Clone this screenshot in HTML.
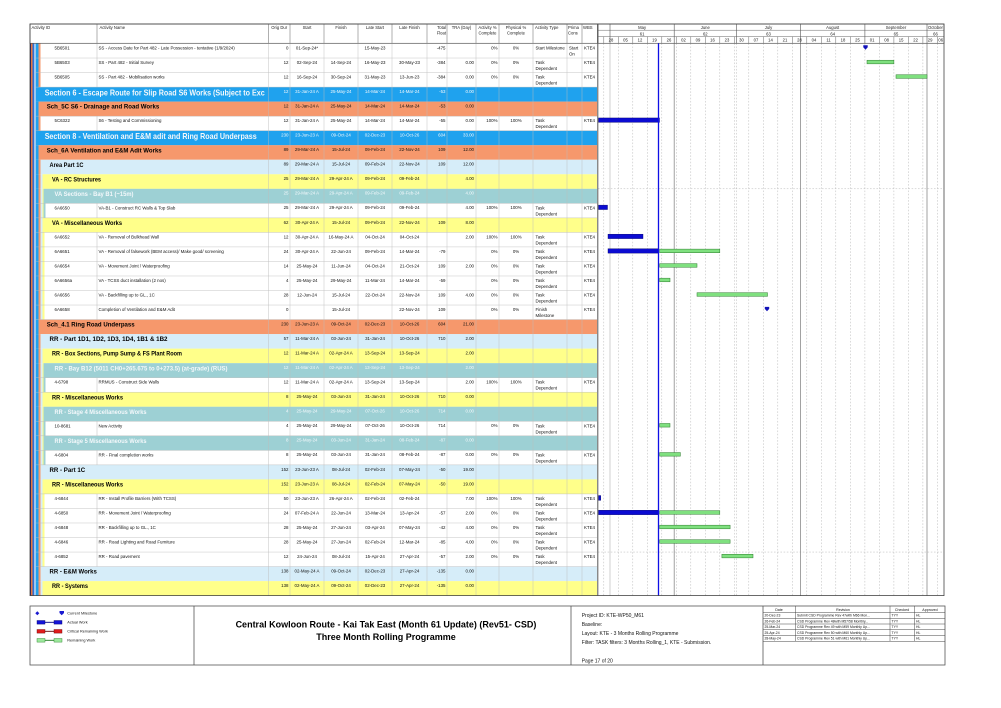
<!DOCTYPE html>
<html><head><meta charset="utf-8"><style>
html,body{margin:0;padding:0;background:#fff;}
svg{display:block;}
svg text{font-family:"Liberation Sans",sans-serif;font-size:4.4px;fill:#111;}
.r{text-anchor:end}.c{text-anchor:middle}
.bw{font-weight:bold;font-size:8.2px;fill:#fff}
.bb{font-weight:bold;font-size:6.6px;fill:#000}
.bt{font-weight:bold;font-size:6.6px;fill:#fff}
.w text{fill:#f4f8fb}
.h{font-size:4.2px;fill:#222}
.gl{stroke:#b4b4b4;stroke-width:0.5;stroke-dasharray:1.6,1.6}
.gs{stroke:#8a8a8a;stroke-width:0.8}
.gb{fill:#7fe07f;stroke:#2f7d2f;stroke-width:0.5}
.bl{fill:#0b0bd2;stroke:#00006a;stroke-width:0.4}
.ms{fill:#1212b8}
.cl{stroke:#c6c6c6;stroke-width:0.6}
</style></head><body>
<svg width="1001" height="708" viewBox="0 0 1001 708" xmlns="http://www.w3.org/2000/svg">
<defs>
<g id="sSch"><rect x="36" y="0" width="2.5" height="14.6" fill="#1fa2ee"/></g>
<g id="sArea"><use href="#sSch"/><rect x="38.5" y="0" width="2" height="14.6" fill="#f6986c"/></g>
<g id="sYel"><use href="#sArea"/><rect x="40.5" y="0" width="2" height="14.6" fill="#d6edf9"/></g>
<g id="sTeal"><use href="#sYel"/><rect x="42.5" y="0" width="1" height="14.6" fill="#ffff8a"/></g>
<g id="sActYel"><use href="#sYel"/><rect x="42.5" y="0" width="2" height="14.6" fill="#ffff8a"/></g>
<g id="sActTeal"><use href="#sTeal"/><rect x="43.5" y="0" width="2" height="14.6" fill="#9dd0d4"/></g>
</defs>
<rect width="1001" height="708" fill="#fff"/>

<!-- GANTT grid (drawn first, under bars) -->
<g class="gl">
<line x1="603.8" y1="43.3" x2="603.8" y2="595.6"/><line x1="618.3" y1="43.3" x2="618.3" y2="595.6"/><line x1="632.8" y1="43.3" x2="632.8" y2="595.6"/><line x1="647.3" y1="43.3" x2="647.3" y2="595.6"/><line x1="661.8" y1="43.3" x2="661.8" y2="595.6"/><line x1="676.3" y1="43.3" x2="676.3" y2="595.6"/><line x1="690.8" y1="43.3" x2="690.8" y2="595.6"/><line x1="705.3" y1="43.3" x2="705.3" y2="595.6"/><line x1="719.8" y1="43.3" x2="719.8" y2="595.6"/><line x1="734.3" y1="43.3" x2="734.3" y2="595.6"/><line x1="748.8" y1="43.3" x2="748.8" y2="595.6"/><line x1="763.3" y1="43.3" x2="763.3" y2="595.6"/><line x1="777.8" y1="43.3" x2="777.8" y2="595.6"/><line x1="792.3" y1="43.3" x2="792.3" y2="595.6"/><line x1="806.8" y1="43.3" x2="806.8" y2="595.6"/><line x1="821.3" y1="43.3" x2="821.3" y2="595.6"/><line x1="835.8" y1="43.3" x2="835.8" y2="595.6"/><line x1="850.3" y1="43.3" x2="850.3" y2="595.6"/><line x1="864.9" y1="43.3" x2="864.9" y2="595.6"/><line x1="879.4" y1="43.3" x2="879.4" y2="595.6"/><line x1="893.9" y1="43.3" x2="893.9" y2="595.6"/><line x1="908.4" y1="43.3" x2="908.4" y2="595.6"/><line x1="922.9" y1="43.3" x2="922.9" y2="595.6"/><line x1="937.4" y1="43.3" x2="937.4" y2="595.6"/><line x1="736.4" y1="43.3" x2="736.4" y2="595.6"/>
<line x1="598" y1="188.8" x2="944" y2="188.8"/><line x1="598" y1="552.05" x2="944" y2="552.05"/>
</g>
<line x1="610" y1="43.3" x2="610" y2="595.6" stroke="#b0b0b0" stroke-width="0.6"/>
<line x1="674.2" y1="43.3" x2="674.2" y2="595.6" class="gs"/>
<line x1="800.6" y1="43.3" x2="800.6" y2="595.6" class="gs"/>
<line x1="927" y1="43.3" x2="927" y2="595.6" class="gs"/>

<!-- base left stripes -->
<rect x="30" y="43.5" width="1" height="552.1" fill="#1c1c6e"/>
<rect x="31" y="43.5" width="1.5" height="552.1" fill="#e8763f"/>
<rect x="32.5" y="43.5" width="1.5" height="552.1" fill="#2f6fd6"/>
<rect x="34" y="43.5" width="2" height="552.1" fill="#9fc7ef"/>

<!-- ROWS -->
<g transform="translate(0,43.5)"><use href="#sArea"/><line x1="97" y1="0" x2="97" y2="14.53" class="cl"/>
<text x="54.5" y="6">5B6501</text><text x="98.5" y="6">SS - Access Date for Part 482 - Late Possession - tentative (1/9/2024)</text>
<text x="288.5" y="5.9" class="r">0</text><text x="307" y="5.9" class="c">01-Sep-24*</text><text x="375" y="5.9" class="c">15-May-23</text><text x="445.5" y="5.9" class="r">-475</text><text x="497.5" y="5.9" class="r">0%</text><text x="516" y="5.9" class="c">0%</text><text x="535.5" y="6">Start Milestone</text><text x="569" y="6">Start</text><text x="569" y="12">On</text><text x="584" y="6">KTE4</text>
<polygon class="ms" points="863.3,1.8 867.7,1.8 867.7,3.8 865.5,6.2 863.3,3.8"/></g>

<g transform="translate(0,58.03)"><use href="#sArea"/><line x1="97" y1="0" x2="97" y2="14.53" class="cl"/>
<text x="54.5" y="6">5B6503</text><text x="98.5" y="6">SS - Part 482 - Initial Survey</text>
<text x="288.5" y="5.9" class="r">12</text><text x="307" y="5.9" class="c">02-Sep-24</text><text x="341" y="5.9" class="c">14-Sep-24</text><text x="375" y="5.9" class="c">16-May-23</text><text x="409.5" y="5.9" class="c">30-May-23</text><text x="445.5" y="5.9" class="r">-384</text><text x="474" y="5.9" class="r">0.00</text><text x="497.5" y="5.9" class="r">0%</text><text x="516" y="5.9" class="c">0%</text><text x="535.5" y="6">Task</text><text x="535.5" y="12">Dependent</text><text x="584" y="6">KTE4</text>
<rect class="gb" x="867" y="2.2" width="26.9" height="3.6"/></g>

<g transform="translate(0,72.56)"><use href="#sArea"/><line x1="97" y1="0" x2="97" y2="14.53" class="cl"/>
<text x="54.5" y="6">5B6505</text><text x="98.5" y="6">SS - Part 482 - Mobilisation works</text>
<text x="288.5" y="5.9" class="r">12</text><text x="307" y="5.9" class="c">16-Sep-24</text><text x="341" y="5.9" class="c">30-Sep-24</text><text x="375" y="5.9" class="c">31-May-23</text><text x="409.5" y="5.9" class="c">13-Jun-23</text><text x="445.5" y="5.9" class="r">-384</text><text x="474" y="5.9" class="r">0.00</text><text x="497.5" y="5.9" class="r">0%</text><text x="516" y="5.9" class="c">0%</text><text x="535.5" y="6">Task</text><text x="535.5" y="12">Dependent</text><text x="584" y="6">KTE4</text>
<rect class="gb" x="896" y="2.2" width="31" height="3.6"/></g>

<g transform="translate(0,87.09)" class="w"><rect x="36" y="0" width="561" height="14.6" fill="#1fa2ee"/>
<text x="44.7" y="8.4" class="bw" textLength="220" lengthAdjust="spacingAndGlyphs">Section 6 - Escape Route for Slip Road S6 Works (Subject to Exc</text>
<text x="288.5" y="5.9" class="r">12</text><text x="307" y="5.9" class="c">31-Jan-24 A</text><text x="341" y="5.9" class="c">25-May-24</text><text x="375" y="5.9" class="c">14-Mar-24</text><text x="409.5" y="5.9" class="c">14-Mar-24</text><text x="445.5" y="5.9" class="r">-53</text><text x="474" y="5.9" class="r">0.00</text></g>

<g transform="translate(0,101.62)"><use href="#sSch"/><rect x="38.5" y="0" width="558.5" height="14.6" fill="#f6986c"/>
<text x="46.7" y="7.1" class="bb" textLength="112.6" lengthAdjust="spacingAndGlyphs">Sch_5C S6 - Drainage and Road Works</text>
<text x="288.5" y="5.9" class="r">12</text><text x="307" y="5.9" class="c">31-Jan-24 A</text><text x="341" y="5.9" class="c">25-May-24</text><text x="375" y="5.9" class="c">14-Mar-24</text><text x="409.5" y="5.9" class="c">14-Mar-24</text><text x="445.5" y="5.9" class="r">-53</text><text x="474" y="5.9" class="r">0.00</text></g>

<g transform="translate(0,116.15)"><use href="#sArea"/><line x1="97" y1="0" x2="97" y2="14.53" class="cl"/>
<text x="54.5" y="6">5C6322</text><text x="98.5" y="6">S6 - Testing and Commissioning</text>
<text x="288.5" y="5.9" class="r">12</text><text x="307" y="5.9" class="c">31-Jan-24 A</text><text x="341" y="5.9" class="c">25-May-24</text><text x="375" y="5.9" class="c">14-Mar-24</text><text x="409.5" y="5.9" class="c">14-Mar-24</text><text x="445.5" y="5.9" class="r">-55</text><text x="474" y="5.9" class="r">0.00</text><text x="497.5" y="5.9" class="r">100%</text><text x="516" y="5.9" class="c">100%</text><text x="535.5" y="6">Task</text><text x="535.5" y="12">Dependent</text><text x="584" y="6">KTE4</text>
<rect class="bl" x="598.5" y="1.8" width="61" height="4.4"/></g>

<g transform="translate(0,130.68)" class="w"><rect x="36" y="0" width="561" height="14.6" fill="#1fa2ee"/>
<text x="44.7" y="8.4" class="bw" textLength="212" lengthAdjust="spacingAndGlyphs">Section 8 - Ventilation and E&amp;M adit and Ring Road Underpass</text>
<text x="288.5" y="5.9" class="r">230</text><text x="307" y="5.9" class="c">23-Jun-23 A</text><text x="341" y="5.9" class="c">09-Oct-24</text><text x="375" y="5.9" class="c">02-Dec-23</text><text x="409.5" y="5.9" class="c">10-Oct-26</text><text x="445.5" y="5.9" class="r">604</text><text x="474" y="5.9" class="r">33.00</text></g>

<g transform="translate(0,145.21)"><use href="#sSch"/><rect x="38.5" y="0" width="558.5" height="14.6" fill="#f6986c"/>
<text x="46.7" y="7.1" class="bb" textLength="115" lengthAdjust="spacingAndGlyphs">Sch_6A Ventilation and E&amp;M Adit Works</text>
<text x="288.5" y="5.9" class="r">89</text><text x="307" y="5.9" class="c">29-Mar-24 A</text><text x="341" y="5.9" class="c">15-Jul-24</text><text x="375" y="5.9" class="c">09-Feb-24</text><text x="409.5" y="5.9" class="c">22-Nov-24</text><text x="445.5" y="5.9" class="r">109</text><text x="474" y="5.9" class="r">12.00</text></g>

<g transform="translate(0,159.74)"><use href="#sArea"/><rect x="40.5" y="0" width="556.5" height="14.6" fill="#d6edf9"/>
<text x="49.5" y="7.1" class="bb" textLength="34" lengthAdjust="spacingAndGlyphs">Area Part 1C</text>
<text x="288.5" y="5.9" class="r">89</text><text x="307" y="5.9" class="c">29-Mar-24 A</text><text x="341" y="5.9" class="c">15-Jul-24</text><text x="375" y="5.9" class="c">09-Feb-24</text><text x="409.5" y="5.9" class="c">22-Nov-24</text><text x="445.5" y="5.9" class="r">109</text><text x="474" y="5.9" class="r">12.00</text></g>

<g transform="translate(0,174.27)"><use href="#sYel"/><rect x="42.5" y="0" width="554.5" height="14.6" fill="#ffff8a"/>
<text x="52" y="7.1" class="bb" textLength="49" lengthAdjust="spacingAndGlyphs">VA - RC Structures</text>
<text x="288.5" y="5.9" class="r">25</text><text x="307" y="5.9" class="c">29-Mar-24 A</text><text x="341" y="5.9" class="c">29-Apr-24 A</text><text x="375" y="5.9" class="c">09-Feb-24</text><text x="409.5" y="5.9" class="c">09-Feb-24</text><text x="474" y="5.9" class="r">4.00</text></g>

<g transform="translate(0,188.8)" class="w"><use href="#sTeal"/><rect x="43.5" y="0" width="553.5" height="14.6" fill="#9dd0d4"/>
<text x="54.5" y="7.1" class="bt" textLength="79" lengthAdjust="spacingAndGlyphs">VA Sections - Bay B1 (~15m)</text>
<text x="288.5" y="5.9" class="r">25</text><text x="307" y="5.9" class="c">29-Mar-24 A</text><text x="341" y="5.9" class="c">29-Apr-24 A</text><text x="375" y="5.9" class="c">09-Feb-24</text><text x="409.5" y="5.9" class="c">09-Feb-24</text><text x="474" y="5.9" class="r">4.00</text></g>

<g transform="translate(0,203.33)"><use href="#sActTeal"/><line x1="97" y1="0" x2="97" y2="14.53" class="cl"/>
<text x="54.5" y="6">6A6650</text><text x="98.5" y="6">VA-B1 - Construct RC Walls &amp; Top Slab</text>
<text x="288.5" y="5.9" class="r">25</text><text x="307" y="5.9" class="c">29-Mar-24 A</text><text x="341" y="5.9" class="c">29-Apr-24 A</text><text x="375" y="5.9" class="c">09-Feb-24</text><text x="409.5" y="5.9" class="c">09-Feb-24</text><text x="474" y="5.9" class="r">4.00</text><text x="497.5" y="5.9" class="r">100%</text><text x="516" y="5.9" class="c">100%</text><text x="535.5" y="6">Task</text><text x="535.5" y="12">Dependent</text><text x="584" y="6">KTE4</text>
<rect class="bl" x="598.5" y="1.8" width="9" height="4.4"/></g>

<g transform="translate(0,217.86)"><use href="#sYel"/><rect x="42.5" y="0" width="554.5" height="14.6" fill="#ffff8a"/>
<text x="52" y="7.1" class="bb" textLength="70" lengthAdjust="spacingAndGlyphs">VA - Miscellaneous Works</text>
<text x="288.5" y="5.9" class="r">62</text><text x="307" y="5.9" class="c">30-Apr-24 A</text><text x="341" y="5.9" class="c">15-Jul-24</text><text x="375" y="5.9" class="c">09-Feb-24</text><text x="409.5" y="5.9" class="c">22-Nov-24</text><text x="445.5" y="5.9" class="r">109</text><text x="474" y="5.9" class="r">8.00</text></g>

<g transform="translate(0,232.39)"><use href="#sActYel"/><line x1="97" y1="0" x2="97" y2="14.53" class="cl"/>
<text x="54.5" y="6">6A6652</text><text x="98.5" y="6">VA - Removal of Bulkhead Wall</text>
<text x="288.5" y="5.9" class="r">12</text><text x="307" y="5.9" class="c">30-Apr-24 A</text><text x="341" y="5.9" class="c">16-May-24 A</text><text x="375" y="5.9" class="c">04-Oct-24</text><text x="409.5" y="5.9" class="c">04-Oct-24</text><text x="474" y="5.9" class="r">2.00</text><text x="497.5" y="5.9" class="r">100%</text><text x="516" y="5.9" class="c">100%</text><text x="535.5" y="6">Task</text><text x="535.5" y="12">Dependent</text><text x="584" y="6">KTE4</text>
<rect class="bl" x="608" y="1.8" width="35" height="4.4"/></g>

<g transform="translate(0,246.92)"><use href="#sActYel"/><line x1="97" y1="0" x2="97" y2="14.53" class="cl"/>
<text x="54.5" y="6">6A6651</text><text x="98.5" y="6">VA - Removal of falsework (BEM access)/ Make good/ screening</text>
<text x="288.5" y="5.9" class="r">24</text><text x="307" y="5.9" class="c">30-Apr-24 A</text><text x="341" y="5.9" class="c">22-Jun-24</text><text x="375" y="5.9" class="c">09-Feb-24</text><text x="409.5" y="5.9" class="c">14-Mar-24</text><text x="445.5" y="5.9" class="r">-79</text><text x="497.5" y="5.9" class="r">0%</text><text x="516" y="5.9" class="c">0%</text><text x="535.5" y="6">Task</text><text x="535.5" y="12">Dependent</text><text x="584" y="6">KTE4</text>
<rect class="bl" x="608" y="1.8" width="50.5" height="4.4"/><rect class="gb" x="659.7" y="2.2" width="60.1" height="3.6"/></g>

<g transform="translate(0,261.45)"><use href="#sActYel"/><line x1="97" y1="0" x2="97" y2="14.53" class="cl"/>
<text x="54.5" y="6">6A6654</text><text x="98.5" y="6">VA - Movement Joint / Waterproofing</text>
<text x="288.5" y="5.9" class="r">14</text><text x="307" y="5.9" class="c">25-May-24</text><text x="341" y="5.9" class="c">11-Jun-24</text><text x="375" y="5.9" class="c">04-Oct-24</text><text x="409.5" y="5.9" class="c">21-Oct-24</text><text x="445.5" y="5.9" class="r">109</text><text x="474" y="5.9" class="r">2.00</text><text x="497.5" y="5.9" class="r">0%</text><text x="516" y="5.9" class="c">0%</text><text x="535.5" y="6">Task</text><text x="535.5" y="12">Dependent</text><text x="584" y="6">KTE4</text>
<rect class="gb" x="659.7" y="2.2" width="37.3" height="3.6"/></g>

<g transform="translate(0,275.98)"><use href="#sActYel"/><line x1="97" y1="0" x2="97" y2="14.53" class="cl"/>
<text x="54.5" y="6">6A6656a</text><text x="98.5" y="6">VA - TCSS duct installation (2 nos)</text>
<text x="288.5" y="5.9" class="r">4</text><text x="307" y="5.9" class="c">25-May-24</text><text x="341" y="5.9" class="c">29-May-24</text><text x="375" y="5.9" class="c">11-Mar-24</text><text x="409.5" y="5.9" class="c">14-Mar-24</text><text x="445.5" y="5.9" class="r">-59</text><text x="497.5" y="5.9" class="r">0%</text><text x="516" y="5.9" class="c">0%</text><text x="535.5" y="6">Task</text><text x="535.5" y="12">Dependent</text><text x="584" y="6">KTE4</text>
<rect class="gb" x="659.7" y="2.2" width="10.3" height="3.6"/></g>

<g transform="translate(0,290.51)"><use href="#sActYel"/><line x1="97" y1="0" x2="97" y2="14.53" class="cl"/>
<text x="54.5" y="6">6A6656</text><text x="98.5" y="6">VA - Backfilling up to GL., 1C</text>
<text x="288.5" y="5.9" class="r">28</text><text x="307" y="5.9" class="c">12-Jun-24</text><text x="341" y="5.9" class="c">15-Jul-24</text><text x="375" y="5.9" class="c">22-Oct-24</text><text x="409.5" y="5.9" class="c">22-Nov-24</text><text x="445.5" y="5.9" class="r">109</text><text x="474" y="5.9" class="r">4.00</text><text x="497.5" y="5.9" class="r">0%</text><text x="516" y="5.9" class="c">0%</text><text x="535.5" y="6">Task</text><text x="535.5" y="12">Dependent</text><text x="584" y="6">KTE4</text>
<rect class="gb" x="697" y="2.2" width="70.5" height="3.6"/></g>

<g transform="translate(0,305.04)"><use href="#sActYel"/><line x1="97" y1="0" x2="97" y2="14.53" class="cl"/>
<text x="54.5" y="6">6A6658</text><text x="98.5" y="6">Completion of Ventilation and E&amp;M Adit</text>
<text x="288.5" y="5.9" class="r">0</text><text x="341" y="5.9" class="c">15-Jul-24</text><text x="409.5" y="5.9" class="c">22-Nov-24</text><text x="445.5" y="5.9" class="r">109</text><text x="497.5" y="5.9" class="r">0%</text><text x="516" y="5.9" class="c">0%</text><text x="535.5" y="6">Finish</text><text x="535.5" y="12">Milestone</text><text x="584" y="6">KTE4</text>
<polygon class="ms" points="764.8,1.8 769.2,1.8 769.2,3.8 767,6.2 764.8,3.8"/></g>

<g transform="translate(0,319.57)"><use href="#sSch"/><rect x="38.5" y="0" width="558.5" height="14.6" fill="#f6986c"/>
<text x="46.7" y="7.1" class="bb" textLength="88" lengthAdjust="spacingAndGlyphs">Sch_4.1 Ring Road Underpass</text>
<text x="288.5" y="5.9" class="r">230</text><text x="307" y="5.9" class="c">23-Jun-23 A</text><text x="341" y="5.9" class="c">09-Oct-24</text><text x="375" y="5.9" class="c">02-Dec-23</text><text x="409.5" y="5.9" class="c">10-Oct-26</text><text x="445.5" y="5.9" class="r">604</text><text x="474" y="5.9" class="r">21.00</text></g>

<g transform="translate(0,334.1)"><use href="#sArea"/><rect x="40.5" y="0" width="556.5" height="14.6" fill="#d6edf9"/>
<text x="49.5" y="7.1" class="bb" textLength="118" lengthAdjust="spacingAndGlyphs">RR - Part 1D1, 1D2, 1D3, 1D4, 1B1 &amp; 1B2</text>
<text x="288.5" y="5.9" class="r">57</text><text x="307" y="5.9" class="c">11-Mar-24 A</text><text x="341" y="5.9" class="c">03-Jun-24</text><text x="375" y="5.9" class="c">31-Jan-24</text><text x="409.5" y="5.9" class="c">10-Oct-26</text><text x="445.5" y="5.9" class="r">710</text><text x="474" y="5.9" class="r">2.00</text></g>

<g transform="translate(0,348.63)"><use href="#sYel"/><rect x="42.5" y="0" width="554.5" height="14.6" fill="#ffff8a"/>
<text x="52" y="7.1" class="bb" textLength="130" lengthAdjust="spacingAndGlyphs">RR - Box Sections, Pump Sump &amp; FS Plant Room</text>
<text x="288.5" y="5.9" class="r">12</text><text x="307" y="5.9" class="c">11-Mar-24 A</text><text x="341" y="5.9" class="c">02-Apr-24 A</text><text x="375" y="5.9" class="c">13-Sep-24</text><text x="409.5" y="5.9" class="c">13-Sep-24</text><text x="474" y="5.9" class="r">2.00</text></g>

<g transform="translate(0,363.16)" class="w"><use href="#sTeal"/><rect x="43.5" y="0" width="553.5" height="14.6" fill="#9dd0d4"/>
<text x="54.5" y="7.1" class="bt" textLength="173" lengthAdjust="spacingAndGlyphs">RR - Bay B12 (5011 CH0+265.675 to 0+273.5) (at-grade) (RUS)</text>
<text x="288.5" y="5.9" class="r">12</text><text x="307" y="5.9" class="c">11-Mar-24 A</text><text x="341" y="5.9" class="c">02-Apr-24 A</text><text x="375" y="5.9" class="c">13-Sep-24</text><text x="409.5" y="5.9" class="c">13-Sep-24</text><text x="474" y="5.9" class="r">2.00</text></g>

<g transform="translate(0,377.69)"><use href="#sActTeal"/><line x1="97" y1="0" x2="97" y2="14.53" class="cl"/>
<text x="54.5" y="6">4-6798</text><text x="98.5" y="6">RRMUS - Construct Side Walls</text>
<text x="288.5" y="5.9" class="r">12</text><text x="307" y="5.9" class="c">11-Mar-24 A</text><text x="341" y="5.9" class="c">02-Apr-24 A</text><text x="375" y="5.9" class="c">13-Sep-24</text><text x="409.5" y="5.9" class="c">13-Sep-24</text><text x="474" y="5.9" class="r">2.00</text><text x="497.5" y="5.9" class="r">100%</text><text x="516" y="5.9" class="c">100%</text><text x="535.5" y="6">Task</text><text x="535.5" y="12">Dependent</text><text x="584" y="6">KTE4</text></g>

<g transform="translate(0,392.22)"><use href="#sYel"/><rect x="42.5" y="0" width="554.5" height="14.6" fill="#ffff8a"/>
<text x="52" y="7.1" class="bb" textLength="71" lengthAdjust="spacingAndGlyphs">RR - Miscellaneous Works</text>
<text x="288.5" y="5.9" class="r">8</text><text x="307" y="5.9" class="c">25-May-24</text><text x="341" y="5.9" class="c">03-Jun-24</text><text x="375" y="5.9" class="c">31-Jan-24</text><text x="409.5" y="5.9" class="c">10-Oct-26</text><text x="445.5" y="5.9" class="r">710</text><text x="474" y="5.9" class="r">0.00</text></g>

<g transform="translate(0,406.75)" class="w"><use href="#sTeal"/><rect x="43.5" y="0" width="553.5" height="14.6" fill="#9dd0d4"/>
<text x="54.5" y="7.1" class="bt" textLength="92" lengthAdjust="spacingAndGlyphs">RR - Stage 4 Miscellaneous Works</text>
<text x="288.5" y="5.9" class="r">4</text><text x="307" y="5.9" class="c">25-May-24</text><text x="341" y="5.9" class="c">29-May-24</text><text x="375" y="5.9" class="c">07-Oct-26</text><text x="409.5" y="5.9" class="c">10-Oct-26</text><text x="445.5" y="5.9" class="r">714</text><text x="474" y="5.9" class="r">0.00</text></g>

<g transform="translate(0,421.28)"><use href="#sActTeal"/><line x1="97" y1="0" x2="97" y2="14.53" class="cl"/>
<text x="54.5" y="6">10-8681</text><text x="98.5" y="6">New Activity</text>
<text x="288.5" y="5.9" class="r">4</text><text x="307" y="5.9" class="c">25-May-24</text><text x="341" y="5.9" class="c">29-May-24</text><text x="375" y="5.9" class="c">07-Oct-26</text><text x="409.5" y="5.9" class="c">10-Oct-26</text><text x="445.5" y="5.9" class="r">714</text><text x="497.5" y="5.9" class="r">0%</text><text x="516" y="5.9" class="c">0%</text><text x="535.5" y="6">Task</text><text x="535.5" y="12">Dependent</text><text x="584" y="6">KTE4</text>
<rect class="gb" x="659.7" y="2.2" width="10.3" height="3.6"/></g>

<g transform="translate(0,435.81)" class="w"><use href="#sTeal"/><rect x="43.5" y="0" width="553.5" height="14.6" fill="#9dd0d4"/>
<text x="54.5" y="7.1" class="bt" textLength="92" lengthAdjust="spacingAndGlyphs">RR - Stage 5 Miscellaneous Works</text>
<text x="288.5" y="5.9" class="r">8</text><text x="307" y="5.9" class="c">25-May-24</text><text x="341" y="5.9" class="c">03-Jun-24</text><text x="375" y="5.9" class="c">31-Jan-24</text><text x="409.5" y="5.9" class="c">08-Feb-24</text><text x="445.5" y="5.9" class="r">-87</text><text x="474" y="5.9" class="r">0.00</text></g>

<g transform="translate(0,450.34)"><use href="#sActTeal"/><line x1="97" y1="0" x2="97" y2="14.53" class="cl"/>
<text x="54.5" y="6">4-6804</text><text x="98.5" y="6">RR - Final completion works</text>
<text x="288.5" y="5.9" class="r">8</text><text x="307" y="5.9" class="c">25-May-24</text><text x="341" y="5.9" class="c">03-Jun-24</text><text x="375" y="5.9" class="c">31-Jan-24</text><text x="409.5" y="5.9" class="c">08-Feb-24</text><text x="445.5" y="5.9" class="r">-87</text><text x="474" y="5.9" class="r">0.00</text><text x="497.5" y="5.9" class="r">0%</text><text x="516" y="5.9" class="c">0%</text><text x="535.5" y="6">Task</text><text x="535.5" y="12">Dependent</text><text x="584" y="6">KTE4</text>
<rect class="gb" x="659.7" y="2.2" width="20.7" height="3.6"/></g>

<g transform="translate(0,464.87)"><use href="#sArea"/><rect x="40.5" y="0" width="556.5" height="14.6" fill="#d6edf9"/>
<text x="49.5" y="7.1" class="bb" textLength="35.7" lengthAdjust="spacingAndGlyphs">RR - Part 1C</text>
<text x="288.5" y="5.9" class="r">152</text><text x="307" y="5.9" class="c">23-Jun-23 A</text><text x="341" y="5.9" class="c">08-Jul-24</text><text x="375" y="5.9" class="c">02-Feb-24</text><text x="409.5" y="5.9" class="c">07-May-24</text><text x="445.5" y="5.9" class="r">-50</text><text x="474" y="5.9" class="r">19.00</text></g>

<g transform="translate(0,479.4)"><use href="#sYel"/><rect x="42.5" y="0" width="554.5" height="14.6" fill="#ffff8a"/>
<text x="52" y="7.1" class="bb" textLength="71" lengthAdjust="spacingAndGlyphs">RR - Miscellaneous Works</text>
<text x="288.5" y="5.9" class="r">152</text><text x="307" y="5.9" class="c">23-Jun-23 A</text><text x="341" y="5.9" class="c">08-Jul-24</text><text x="375" y="5.9" class="c">02-Feb-24</text><text x="409.5" y="5.9" class="c">07-May-24</text><text x="445.5" y="5.9" class="r">-50</text><text x="474" y="5.9" class="r">19.00</text></g>

<g transform="translate(0,493.93)"><use href="#sActYel"/><line x1="97" y1="0" x2="97" y2="14.53" class="cl"/>
<text x="54.5" y="6">4-6844</text><text x="98.5" y="6">RR - Install Profile Barriers (With TCSS)</text>
<text x="288.5" y="5.9" class="r">50</text><text x="307" y="5.9" class="c">23-Jun-23 A</text><text x="341" y="5.9" class="c">26-Apr-24 A</text><text x="375" y="5.9" class="c">02-Feb-24</text><text x="409.5" y="5.9" class="c">02-Feb-24</text><text x="474" y="5.9" class="r">7.00</text><text x="497.5" y="5.9" class="r">100%</text><text x="516" y="5.9" class="c">100%</text><text x="535.5" y="6">Task</text><text x="535.5" y="12">Dependent</text><text x="584" y="6">KTE4</text>
<rect class="bl" x="598.5" y="1.6" width="2.2" height="4.8"/></g>

<g transform="translate(0,508.46)"><use href="#sActYel"/><line x1="97" y1="0" x2="97" y2="14.53" class="cl"/>
<text x="54.5" y="6">4-6850</text><text x="98.5" y="6">RR - Movement Joint / Waterproofing</text>
<text x="288.5" y="5.9" class="r">24</text><text x="307" y="5.9" class="c">07-Feb-24 A</text><text x="341" y="5.9" class="c">22-Jun-24</text><text x="375" y="5.9" class="c">13-Mar-24</text><text x="409.5" y="5.9" class="c">13-Apr-24</text><text x="445.5" y="5.9" class="r">-57</text><text x="474" y="5.9" class="r">2.00</text><text x="497.5" y="5.9" class="r">0%</text><text x="516" y="5.9" class="c">0%</text><text x="535.5" y="6">Task</text><text x="535.5" y="12">Dependent</text><text x="584" y="6">KTE4</text>
<rect class="bl" x="598.5" y="1.8" width="60" height="4.4"/><rect class="gb" x="659.7" y="2.2" width="60.1" height="3.6"/></g>

<g transform="translate(0,522.99)"><use href="#sActYel"/><line x1="97" y1="0" x2="97" y2="14.53" class="cl"/>
<text x="54.5" y="6">4-6848</text><text x="98.5" y="6">RR - Backfilling up to GL., 1C</text>
<text x="288.5" y="5.9" class="r">28</text><text x="307" y="5.9" class="c">25-May-24</text><text x="341" y="5.9" class="c">27-Jun-24</text><text x="375" y="5.9" class="c">03-Apr-24</text><text x="409.5" y="5.9" class="c">07-May-24</text><text x="445.5" y="5.9" class="r">-42</text><text x="474" y="5.9" class="r">4.00</text><text x="497.5" y="5.9" class="r">0%</text><text x="516" y="5.9" class="c">0%</text><text x="535.5" y="6">Task</text><text x="535.5" y="12">Dependent</text><text x="584" y="6">KTE4</text>
<rect class="gb" x="659.7" y="2.2" width="70.4" height="3.6"/></g>

<g transform="translate(0,537.52)"><use href="#sActYel"/><line x1="97" y1="0" x2="97" y2="14.53" class="cl"/>
<text x="54.5" y="6">4-6846</text><text x="98.5" y="6">RR - Road Lighting and Road Furniture</text>
<text x="288.5" y="5.9" class="r">28</text><text x="307" y="5.9" class="c">25-May-24</text><text x="341" y="5.9" class="c">27-Jun-24</text><text x="375" y="5.9" class="c">02-Feb-24</text><text x="409.5" y="5.9" class="c">12-Mar-24</text><text x="445.5" y="5.9" class="r">-85</text><text x="474" y="5.9" class="r">4.00</text><text x="497.5" y="5.9" class="r">0%</text><text x="516" y="5.9" class="c">0%</text><text x="535.5" y="6">Task</text><text x="535.5" y="12">Dependent</text><text x="584" y="6">KTE4</text>
<rect class="gb" x="659.7" y="2.2" width="70.4" height="3.6"/></g>

<g transform="translate(0,552.05)"><use href="#sActYel"/><line x1="97" y1="0" x2="97" y2="14.53" class="cl"/>
<text x="54.5" y="6">4-6852</text><text x="98.5" y="6">RR - Road pavement</text>
<text x="288.5" y="5.9" class="r">12</text><text x="307" y="5.9" class="c">24-Jun-24</text><text x="341" y="5.9" class="c">08-Jul-24</text><text x="375" y="5.9" class="c">15-Apr-24</text><text x="409.5" y="5.9" class="c">27-Apr-24</text><text x="445.5" y="5.9" class="r">-57</text><text x="474" y="5.9" class="r">2.00</text><text x="497.5" y="5.9" class="r">0%</text><text x="516" y="5.9" class="c">0%</text><text x="535.5" y="6">Task</text><text x="535.5" y="12">Dependent</text><text x="584" y="6">KTE4</text>
<rect class="gb" x="721.9" y="2.2" width="31.1" height="3.6"/></g>

<g transform="translate(0,566.58)"><use href="#sArea"/><rect x="40.5" y="0" width="556.5" height="14.6" fill="#d6edf9"/>
<text x="49.5" y="7.1" class="bb" textLength="47.3" lengthAdjust="spacingAndGlyphs">RR - E&amp;M Works</text>
<text x="288.5" y="5.9" class="r">138</text><text x="307" y="5.9" class="c">02-May-24 A</text><text x="341" y="5.9" class="c">09-Oct-24</text><text x="375" y="5.9" class="c">02-Dec-23</text><text x="409.5" y="5.9" class="c">27-Apr-24</text><text x="445.5" y="5.9" class="r">-135</text><text x="474" y="5.9" class="r">0.00</text></g>

<g transform="translate(0,581.11)"><use href="#sYel"/><rect x="42.5" y="0" width="554.5" height="14.53" fill="#ffff8a"/>
<text x="52" y="7.1" class="bb" textLength="36" lengthAdjust="spacingAndGlyphs">RR - Systems</text>
<text x="288.5" y="5.9" class="r">138</text><text x="307" y="5.9" class="c">02-May-24 A</text><text x="341" y="5.9" class="c">09-Oct-24</text><text x="375" y="5.9" class="c">02-Dec-23</text><text x="409.5" y="5.9" class="c">27-Apr-24</text><text x="445.5" y="5.9" class="r">-135</text><text x="474" y="5.9" class="r">0.00</text></g>

<!-- table grid -->
<g stroke="#b8b8b8" stroke-width="0.5" opacity="0.8">
<line x1="36" y1="58.03" x2="597" y2="58.03"/><line x1="36" y1="72.56" x2="597" y2="72.56"/><line x1="36" y1="87.09" x2="597" y2="87.09"/><line x1="36" y1="130.68" x2="597" y2="130.68"/><line x1="36" y1="116.15" x2="597" y2="116.15"/><line x1="36" y1="217.86" x2="597" y2="217.86"/><line x1="36" y1="203.33" x2="597" y2="203.33"/><line x1="36" y1="246.92" x2="597" y2="246.92"/><line x1="36" y1="261.45" x2="597" y2="261.45"/><line x1="36" y1="275.98" x2="597" y2="275.98"/><line x1="36" y1="290.51" x2="597" y2="290.51"/><line x1="36" y1="305.04" x2="597" y2="305.04"/><line x1="36" y1="232.39" x2="597" y2="232.39"/><line x1="36" y1="319.57" x2="597" y2="319.57"/><line x1="36" y1="377.69" x2="597" y2="377.69"/><line x1="36" y1="392.22" x2="597" y2="392.22"/><line x1="36" y1="421.28" x2="597" y2="421.28"/><line x1="36" y1="435.81" x2="597" y2="435.81"/><line x1="36" y1="450.34" x2="597" y2="450.34"/><line x1="36" y1="464.87" x2="597" y2="464.87"/><line x1="36" y1="493.93" x2="597" y2="493.93"/><line x1="36" y1="508.46" x2="597" y2="508.46"/><line x1="36" y1="522.99" x2="597" y2="522.99"/><line x1="36" y1="537.52" x2="597" y2="537.52"/><line x1="36" y1="552.05" x2="597" y2="552.05"/><line x1="36" y1="566.58" x2="597" y2="566.58"/>
</g>
<g stroke="#bcbcbc" stroke-width="0.6" opacity="0.75">
<line x1="268.5" y1="43.5" x2="268.5" y2="595.6"/><line x1="290" y1="43.5" x2="290" y2="595.6"/><line x1="324" y1="43.5" x2="324" y2="595.6"/><line x1="358" y1="43.5" x2="358" y2="595.6"/><line x1="392" y1="43.5" x2="392" y2="595.6"/><line x1="427" y1="43.5" x2="427" y2="595.6"/><line x1="447" y1="43.5" x2="447" y2="595.6"/><line x1="476" y1="43.5" x2="476" y2="595.6"/><line x1="499" y1="43.5" x2="499" y2="595.6"/><line x1="533" y1="43.5" x2="533" y2="595.6"/><line x1="567" y1="43.5" x2="567" y2="595.6"/><line x1="582" y1="43.5" x2="582" y2="595.6"/>
</g>

<!-- table header -->
<rect x="30" y="24" width="567.5" height="19.3" fill="#fff" stroke="#555" stroke-width="0.7"/>
<g stroke="#7a7a7a" stroke-width="0.6">
<line x1="97" y1="24" x2="97" y2="43.3"/><line x1="268.5" y1="24" x2="268.5" y2="43.3"/><line x1="290" y1="24" x2="290" y2="43.3"/><line x1="324" y1="24" x2="324" y2="43.3"/><line x1="358" y1="24" x2="358" y2="43.3"/><line x1="392" y1="24" x2="392" y2="43.3"/><line x1="427" y1="24" x2="427" y2="43.3"/><line x1="447" y1="24" x2="447" y2="43.3"/><line x1="476" y1="24" x2="476" y2="43.3"/><line x1="499" y1="24" x2="499" y2="43.3"/><line x1="533" y1="24" x2="533" y2="43.3"/><line x1="567" y1="24" x2="567" y2="43.3"/><line x1="582" y1="24" x2="582" y2="43.3"/>
</g>
<text x="31.5" y="29" class="h">Activity ID</text><text x="99.5" y="29" class="h">Activity Name</text>
<text x="279.2" y="29" class="h c">Orig Dur</text><text x="307" y="29" class="h c">Start</text><text x="341" y="29" class="h c">Finish</text><text x="375" y="29" class="h c">Late Start</text><text x="409.5" y="29" class="h c">Late Finish</text>
<text x="446" y="29" class="h r">Total</text><text x="446" y="34.5" class="h r">Float</text><text x="461.5" y="29" class="h c">TRA (Day)</text>
<text x="487.5" y="29" class="h c">Activity %</text><text x="487.5" y="34.5" class="h c">Complete</text><text x="516" y="29" class="h c">Physical %</text><text x="516" y="34.5" class="h c">Complete</text>
<text x="535" y="29" class="h">Activity Type</text><text x="568" y="29" class="h">Prima</text><text x="568" y="34.5" class="h">Cons</text><text x="583" y="29" class="h">WBS</text>

<!-- gantt header -->
<rect x="598" y="24" width="346" height="19.3" fill="#fff" stroke="#555" stroke-width="0.7"/>
<line x1="598" y1="30.2" x2="944" y2="30.2" stroke="#666" stroke-width="0.5"/>
<line x1="598" y1="36.6" x2="944" y2="36.6" stroke="#666" stroke-width="0.5"/>
<g stroke="#555" stroke-width="0.6">
<line x1="610" y1="24" x2="610" y2="43.3"/><line x1="674.2" y1="24" x2="674.2" y2="43.3"/><line x1="736.4" y1="24" x2="736.4" y2="43.3"/><line x1="800.6" y1="24" x2="800.6" y2="43.3"/><line x1="864.9" y1="24" x2="864.9" y2="43.3"/><line x1="927" y1="24" x2="927" y2="43.3"/>
</g>
<g stroke="#666" stroke-width="0.5">
<line x1="603.8" y1="36.6" x2="603.8" y2="43.3"/><line x1="618.3" y1="36.6" x2="618.3" y2="43.3"/><line x1="632.8" y1="36.6" x2="632.8" y2="43.3"/><line x1="647.3" y1="36.6" x2="647.3" y2="43.3"/><line x1="661.8" y1="36.6" x2="661.8" y2="43.3"/><line x1="676.3" y1="36.6" x2="676.3" y2="43.3"/><line x1="690.8" y1="36.6" x2="690.8" y2="43.3"/><line x1="705.3" y1="36.6" x2="705.3" y2="43.3"/><line x1="719.8" y1="36.6" x2="719.8" y2="43.3"/><line x1="734.3" y1="36.6" x2="734.3" y2="43.3"/><line x1="748.8" y1="36.6" x2="748.8" y2="43.3"/><line x1="763.3" y1="36.6" x2="763.3" y2="43.3"/><line x1="777.8" y1="36.6" x2="777.8" y2="43.3"/><line x1="792.3" y1="36.6" x2="792.3" y2="43.3"/><line x1="806.8" y1="36.6" x2="806.8" y2="43.3"/><line x1="821.3" y1="36.6" x2="821.3" y2="43.3"/><line x1="835.8" y1="36.6" x2="835.8" y2="43.3"/><line x1="850.3" y1="36.6" x2="850.3" y2="43.3"/><line x1="879.4" y1="36.6" x2="879.4" y2="43.3"/><line x1="893.9" y1="36.6" x2="893.9" y2="43.3"/><line x1="908.4" y1="36.6" x2="908.4" y2="43.3"/><line x1="922.9" y1="36.6" x2="922.9" y2="43.3"/><line x1="937.4" y1="36.6" x2="937.4" y2="43.3"/>
</g>
<g>
<text x="642.1" y="29" class="h c">May</text><text x="705.3" y="29" class="h c">June</text><text x="768.5" y="29" class="h c">July</text><text x="832.7" y="29" class="h c">August</text><text x="896" y="29" class="h c">September</text><text x="935.5" y="29" class="h c">October</text>
<text x="642.1" y="35.3" class="h c">61</text><text x="705.3" y="35.3" class="h c">62</text><text x="768.5" y="35.3" class="h c">63</text><text x="832.7" y="35.3" class="h c">64</text><text x="896" y="35.3" class="h c">65</text><text x="935.5" y="35.3" class="h c">66</text>
</g>
<g>
<text x="611" y="41.5" class="h c">28</text><text x="625.5" y="41.5" class="h c">05</text><text x="640" y="41.5" class="h c">12</text><text x="654.5" y="41.5" class="h c">19</text><text x="669" y="41.5" class="h c">26</text><text x="683.5" y="41.5" class="h c">02</text><text x="698" y="41.5" class="h c">09</text><text x="712.5" y="41.5" class="h c">16</text><text x="727" y="41.5" class="h c">23</text><text x="741.5" y="41.5" class="h c">30</text><text x="756" y="41.5" class="h c">07</text><text x="770.5" y="41.5" class="h c">14</text><text x="785" y="41.5" class="h c">21</text><text x="799.5" y="41.5" class="h c">28</text><text x="814" y="41.5" class="h c">04</text><text x="828.5" y="41.5" class="h c">11</text><text x="843" y="41.5" class="h c">18</text><text x="857.5" y="41.5" class="h c">25</text><text x="872.1" y="41.5" class="h c">01</text><text x="886.6" y="41.5" class="h c">08</text><text x="901.1" y="41.5" class="h c">15</text><text x="915.6" y="41.5" class="h c">22</text><text x="930.1" y="41.5" class="h c">29</text><text x="940.7" y="41.5" class="h c">06</text>
</g>

<!-- data date -->
<line x1="658.5" y1="43.3" x2="658.5" y2="595.6" stroke="#1010e6" stroke-width="1.3"/>

<!-- outer borders -->
<rect x="30" y="24" width="914" height="571.6" fill="none" stroke="#444" stroke-width="0.8"/>
<line x1="597.8" y1="24" x2="597.8" y2="595.6" stroke="#555" stroke-width="1"/>

<!-- FOOTER -->
<rect x="30" y="606" width="915" height="59" fill="#fff" stroke="#555" stroke-width="0.8"/>
<line x1="194" y1="606" x2="194" y2="665" stroke="#555" stroke-width="0.8"/>
<line x1="571" y1="606" x2="571" y2="665" stroke="#555" stroke-width="0.8"/>
<line x1="763" y1="606" x2="763" y2="665" stroke="#555" stroke-width="0.8"/>

<!-- legend -->
<polygon points="37.3,611.3 39.3,613.3 37.3,615.3 35.3,613.3" fill="#1a1ad0"/>
<polygon points="59.5,611 64,611 64,613 61.7,615.3 59.5,613" fill="#1a1ad0"/>
<text x="67.3" y="614.5" style="font-size:3.8px">Current Milestone</text>
<rect x="37" y="620.5" width="8" height="3.6" fill="#1414d8" stroke="#000060" stroke-width="0.4"/><line x1="45" y1="622.3" x2="54" y2="622.3" stroke="#000080" stroke-width="0.9"/><rect x="54" y="620.5" width="8" height="3.6" fill="#1414d8" stroke="#000060" stroke-width="0.4"/>
<text x="67.3" y="623.6" style="font-size:3.8px">Actual Work</text>
<rect x="37" y="629.5" width="8" height="3.6" fill="#e01c1c" stroke="#600000" stroke-width="0.4"/><line x1="45" y1="631.3" x2="54" y2="631.3" stroke="#600000" stroke-width="0.9"/><rect x="54" y="629.5" width="8" height="3.6" fill="#e01c1c" stroke="#600000" stroke-width="0.4"/>
<text x="67.3" y="632.6" style="font-size:3.8px">Critical Remaining Work</text>
<rect x="37" y="638.5" width="8" height="3.6" fill="#9ce89c" stroke="#1f7a1f" stroke-width="0.4"/><line x1="45" y1="640.3" x2="54" y2="640.3" stroke="#1f7a1f" stroke-width="0.9"/><rect x="54" y="638.5" width="8" height="3.6" fill="#9ce89c" stroke="#1f7a1f" stroke-width="0.4"/>
<text x="67.3" y="641.6" style="font-size:3.8px">Remaining Work</text>

<!-- title -->
<text x="386" y="627.6" class="c" style="font-size:9px;font-weight:bold;fill:#000">Central Kowloon Route - Kai Tak East (Month 61 Update) (Rev51- CSD)</text>
<text x="386" y="640" class="c" style="font-size:9px;font-weight:bold;fill:#000">Three Month Rolling Programme</text>

<!-- project info -->
<text x="581.7" y="616.8" style="font-size:5px">Project ID: KTE-WP50_M61</text>
<text x="581.7" y="625.8" style="font-size:5px">Baseline:</text>
<text x="581.7" y="635" style="font-size:5px">Layout: KTE - 3 Months Rolling Programme</text>
<text x="581.7" y="644" style="font-size:5px">Filter: TASK filters: 3 Months Rolling_1, KTE - Submission.</text>
<text x="581.7" y="662.5" style="font-size:5px">Page 17 of 20</text>

<!-- revision table -->
<g stroke="#444" stroke-width="0.5">
<line x1="763" y1="612.5" x2="945" y2="612.5"/><line x1="763" y1="618.25" x2="945" y2="618.25"/><line x1="763" y1="624" x2="945" y2="624"/><line x1="763" y1="629.75" x2="945" y2="629.75"/><line x1="763" y1="635.5" x2="945" y2="635.5"/><line x1="763" y1="641.25" x2="945" y2="641.25"/>
<line x1="795.5" y1="606" x2="795.5" y2="641.25"/><line x1="890" y1="606" x2="890" y2="641.25"/><line x1="914.5" y1="606" x2="914.5" y2="641.25"/>
</g>
<g>
<text x="779" y="610.8" class="c" style="font-size:3.6px">Date</text><text x="843" y="610.8" class="c" style="font-size:3.6px">Revision</text><text x="902" y="610.8" class="c" style="font-size:3.6px">Checked</text><text x="930" y="610.8" class="c" style="font-size:3.6px">Approved</text>
<text x="764.5" y="616.6" style="font-size:3.4px">20-Dec-23</text><text x="797" y="616.6" style="font-size:3.4px">Submit CSD Programme Rev 47with M66 Mon...</text><text x="891.5" y="616.6" style="font-size:3.4px">TYY</text><text x="916" y="616.6" style="font-size:3.4px">HL</text>
<text x="764.5" y="622.35" style="font-size:3.4px">26-Feb-24</text><text x="797" y="622.35" style="font-size:3.4px">CSD Programme Rev 48with M57/58 Monthly...</text><text x="891.5" y="622.35" style="font-size:3.4px">TYY</text><text x="916" y="622.35" style="font-size:3.4px">HL</text>
<text x="764.5" y="628.1" style="font-size:3.4px">25-Mar-24</text><text x="797" y="628.1" style="font-size:3.4px">CSD Programme Rev 49 with M59 Monthly Up...</text><text x="891.5" y="628.1" style="font-size:3.4px">TYY</text><text x="916" y="628.1" style="font-size:3.4px">HL</text>
<text x="764.5" y="633.85" style="font-size:3.4px">25-Apr-24</text><text x="797" y="633.85" style="font-size:3.4px">CSD Programme Rev 50 with M60 Monthly Up...</text><text x="891.5" y="633.85" style="font-size:3.4px">TYY</text><text x="916" y="633.85" style="font-size:3.4px">HL</text>
<text x="764.5" y="639.6" style="font-size:3.4px">28-May-24</text><text x="797" y="639.6" style="font-size:3.4px">CSD Programme Rev 51 with M61 Monthly Up...</text><text x="891.5" y="639.6" style="font-size:3.4px">TYY</text><text x="916" y="639.6" style="font-size:3.4px">HL</text>
</g>
</svg>
</body></html>
